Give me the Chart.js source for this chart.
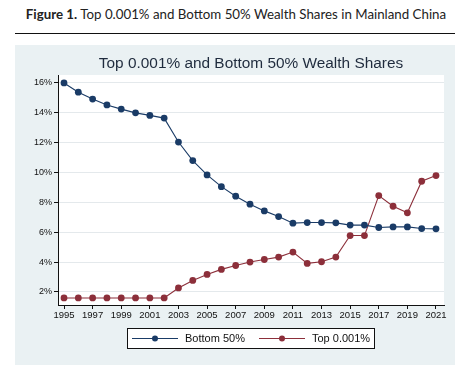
<!DOCTYPE html>
<html>
<head>
<meta charset="utf-8">
<script src="https://cdn.jsdelivr.net/npm/chart.js@4.4.1/dist/chart.umd.min.js"></script>
<style>
  html, body { margin: 0; padding: 0; background: #fff; }
  body { width: 472px; height: 377px; position: relative; overflow: hidden; }
  #heading {
    position: absolute; left: 0; top: 6px; width: 472px; text-align: center;
    font-family: Lato, "Open Sans", sans-serif; font-size: 13.3px; color: #222;
  }
  #heading b { font-weight: 700; }
  #rule { position: absolute; left: 15px; top: 33px; width: 440px; height: 0; border-top: 1.5px solid #111; }
  #panel { position: absolute; left: 15px; top: 45px; width: 440px; height: 320px; background: #eaf1f3; }
</style>
</head>
<body>
<div id="heading"><b>Figure 1.</b> Top 0.001% and Bottom 50% Wealth Shares in Mainland China</div>
<div id="rule"></div>
<div id="panel"><canvas id="chart" width="440" height="320"></canvas></div>
<script>
const years = [1995, 1996, 1997, 1998, 1999, 2000, 2001, 2002, 2003, 2004, 2005, 2006, 2007,
  2008, 2009, 2010, 2011, 2012, 2013, 2014, 2015, 2016, 2017, 2018, 2019, 2020, 2021];
const bottom50 = [15.97, 15.35, 14.89, 14.5, 14.22, 13.97, 13.8, 13.62, 12.02, 10.78, 9.82, 9.04, 8.4,
  7.87, 7.42, 7.04, 6.6, 6.64, 6.64, 6.62, 6.47, 6.47, 6.31, 6.35, 6.35, 6.24, 6.22];
const top0001 = [1.6, 1.6, 1.6, 1.6, 1.6, 1.6, 1.6, 1.6, 2.27, 2.77, 3.17, 3.51, 3.77,
  4.0, 4.17, 4.33, 4.67, 3.91, 4.02, 4.33, 5.77, 5.77, 8.44, 7.73, 7.29, 9.4, 9.78];
const xTicks = [1995, 1997, 1999, 2001, 2003, 2005, 2007, 2009, 2011, 2013, 2015, 2017, 2019, 2021];
const yTicks = [2, 4, 6, 8, 10, 12, 14, 16];
const chartTitle = "Top 0.001% and Bottom 50% Wealth Shares";

const navy = "#1a3b66";
const maroon = "#8c2f3a";
const font = "'Liberation Sans', Arial, sans-serif";

// plot background, title and boxed legend, drawn the Stata way
const stataFrame = {
  id: "stataFrame",
  beforeDraw(chart) {
    const { ctx, chartArea: a } = chart;
    ctx.save();
    ctx.fillStyle = "#fff";
    ctx.fillRect(a.left, a.top, a.right - a.left, a.bottom - a.top);
    ctx.restore();
  },
  afterDraw(chart) {
    const { ctx, chartArea: a } = chart;
    ctx.save();
    ctx.fillStyle = "#1f2b3d";
    ctx.font = "15.4px " + font;
    ctx.textAlign = "center";
    ctx.textBaseline = "middle";
    ctx.fillText(chartTitle, (a.left + a.right) / 2, 19);

    const bx = 112, by = 283, bw = 247, bh = 20;
    ctx.fillStyle = "#fff";
    ctx.fillRect(bx, by, bw, bh);
    ctx.strokeStyle = "#111";
    ctx.lineWidth = 1;
    ctx.strokeRect(bx + 0.5, by + 0.5, bw, bh);

    const items = chart.data.datasets.map((d, i) => ({ label: d.label, color: d.borderColor, x: bx + 5 + i * 127 }));
    ctx.font = "11px " + font;
    ctx.textAlign = "left";
    items.forEach((it) => {
      const cy = by + bh / 2 + 0.5;
      ctx.strokeStyle = it.color;
      ctx.lineWidth = 1;
      ctx.beginPath();
      ctx.moveTo(it.x, cy);
      ctx.lineTo(it.x + 46, cy);
      ctx.stroke();
      ctx.fillStyle = it.color;
      ctx.beginPath();
      ctx.arc(it.x + 23, cy, 3, 0, Math.PI * 2);
      ctx.fill();
      ctx.fillStyle = "#111";
      ctx.fillText(it.label, it.x + 53, cy);
    });
    ctx.restore();
  },
};

new Chart(document.getElementById("chart"), {
  type: "line",
  data: {
    labels: years,
    datasets: [
      { label: "Bottom 50%", data: years.map((y, i) => ({ x: y, y: bottom50[i] })), borderColor: navy, backgroundColor: navy },
      { label: "Top 0.001%", data: years.map((y, i) => ({ x: y, y: top0001[i] })), borderColor: maroon, backgroundColor: maroon },
    ],
  },
  options: {
    responsive: false,
    animation: false,
    layout: { padding: { top: 30, right: 11, left: 0, bottom: 0 } },
    elements: {
      line: { borderWidth: 1.1, tension: 0 },
      point: { radius: 3.4, borderWidth: 0, hoverRadius: 3.4 },
    },
    plugins: { legend: { display: false }, title: { display: false }, tooltip: { enabled: false } },
    scales: {
      x: {
        type: "linear",
        min: 1994.58,
        max: 2021.56,
        afterBuildTicks: (s) => { s.ticks = xTicks.map((v) => ({ value: v })); },
        afterFit: (s) => { s.height = 60; },
        ticks: { color: "#111", font: { size: 9.5, family: font }, padding: 1, maxRotation: 0, autoSkip: false,
          callback: (v) => String(v) },
        grid: { drawOnChartArea: false, drawTicks: true, tickLength: 4, tickColor: "#111" },
        border: { color: "#111", width: 1 },
      },
      y: {
        min: 1.13,
        max: 16.5,
        afterBuildTicks: (s) => { s.ticks = yTicks.map((v) => ({ value: v })); },
        afterFit: (s) => { s.width = 43; },
        ticks: { color: "#111", font: { size: 9, family: font }, padding: 2, callback: (v) => v + "%" },
        grid: { color: "#e4e9ec", lineWidth: 1, tickLength: 4, tickColor: "#111" },
        border: { color: "#111", width: 1 },
      },
    },
  },
  plugins: [stataFrame],
});
</script>
</body>
</html>
